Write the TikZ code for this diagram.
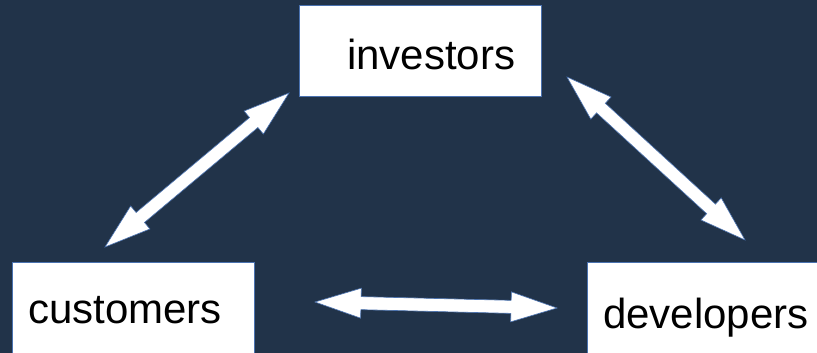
\documentclass[tikz,border=0pt]{standalone}
\usepackage{fontspec}
\setmainfont{Liberation Sans}
\usetikzlibrary{calc}
\definecolor{bgnavy}{HTML}{213349}
\definecolor{edgeblue}{HTML}{4A72B0}
\tikzset{
  box/.style={draw=edgeblue, line width=0.8pt, fill=white},
  lbl/.style={inner sep=0pt, anchor=base west, font=\fontsize{42}{50}\selectfont, text=black},
  blockarrow/.style={fill=white, draw=edgeblue, line width=0.6pt, line join=miter}
}
\newcommand{\dblarrow}[2]{%
  \path ($(#1)!46pt!(#2)$) coordinate (ha) ($(#2)!46pt!(#1)$) coordinate (hb);
  \draw[blockarrow] (#1)
    -- ($(ha)!15pt!90:(#2)$) -- ($(ha)!6.5pt!90:(#2)$)
    -- ($(hb)!6.5pt!-90:(#1)$) -- ($(hb)!15pt!-90:(#1)$)
    -- (#2)
    -- ($(hb)!15pt!90:(#1)$) -- ($(hb)!6.5pt!90:(#1)$)
    -- ($(ha)!6.5pt!-90:(#2)$) -- ($(ha)!15pt!-90:(#2)$)
    -- cycle;}
\begin{document}
\begin{tikzpicture}[x=1pt,y=-1pt]
\useasboundingbox (0,0) rectangle (817,353);
\clip (0,0) rectangle (817,353);
\fill[bgnavy] (0,0) rectangle (817,353);
% boxes
\path[box] (299,5) rectangle (541,96);
\node[inner sep=0pt, minimum width=242pt, minimum height=91pt] (inv) at (420,50.5) {};
\path[box] (12,262) rectangle (254,360);
\node[inner sep=0pt] (cus) at (133,307) {};
\path[box] (587,262) rectangle (825,360);
\node[inner sep=0pt] (dev) at (702,307) {};
% labels
\node[lbl] (invl) at (347,70) {investors};
\node[lbl] (cusl) at (28,323) {customers};
\node[lbl] (devl) at (603,328) {developers};
% arrow ends
\coordinate (a1) at (289,93);
\coordinate (a2) at (105,247);
\coordinate (b1) at (567,77);
\coordinate (b2) at (745,240);
\coordinate (c1) at (315,302);
\coordinate (c2) at (557,308);
\dblarrow{a1}{a2}
\dblarrow{b1}{b2}
\dblarrow{c1}{c2}
\end{tikzpicture}
\end{document}
